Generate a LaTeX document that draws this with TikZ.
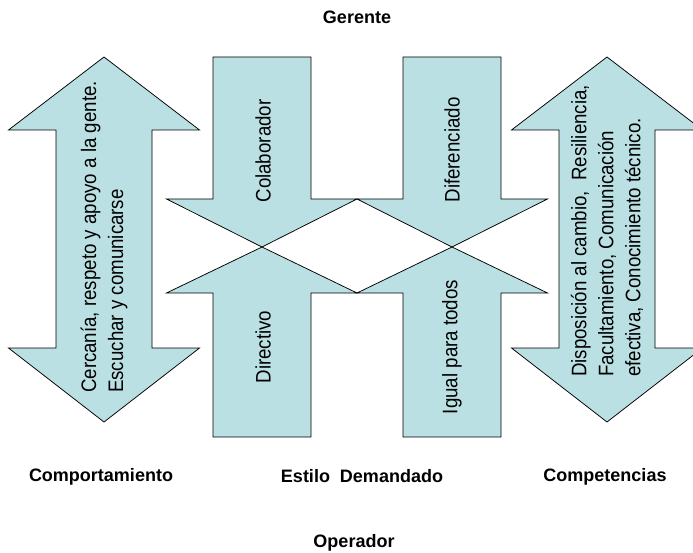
\documentclass[tikz,border=0pt]{standalone}
\usepackage{fontspec}
\setmainfont{Liberation Sans}
\newfontfamily\narrowfont{Liberation Sans}[FakeStretch=0.89]
\definecolor{arrowfill}{RGB}{187,224,227}
\tikzset{
    arrowshape/.style={draw=black, fill=arrowfill, line width=0.75pt, line join=miter},
    intext/.style={rotate=90, inner sep=0pt, align=left,
        font=\narrowfont\fontsize{21}{27}\selectfont},
    heading/.style={anchor=base, inner sep=0pt,
        font=\bfseries\fontsize{18}{22}\selectfont},
}

\begin{document}
\begin{tikzpicture}[x=1pt, y=-1pt]
    \useasboundingbox (0,0) rectangle (693,553);
    % double arrows at the sides
    \draw[arrowshape] (104,57) -- (199.5,130) -- (152,130) -- (152,348)
        -- (199.5,348) -- (104,422) -- (8.5,348) -- (56,348) -- (56,130)
        -- (8.5,130) -- cycle;
    \draw[arrowshape] (607,57) -- (702.5,130) -- (655,130) -- (655,348)
        -- (702.5,348) -- (607,422) -- (511.5,348) -- (559,348) -- (559,130)
        -- (511.5,130) -- cycle;
    % down arrows
    \draw[arrowshape] (213,57) -- (311,57) -- (311,199) -- (357,199)
        -- (262,247) -- (166.5,199) -- (213,199) -- cycle;
    \draw[arrowshape] (403,57) -- (501,57) -- (501,199) -- (547.5,199)
        -- (452,247) -- (357,199) -- (403,199) -- cycle;
    % up arrows
    \draw[arrowshape] (213,437) -- (311,437) -- (311,293) -- (357,293)
        -- (262,247) -- (166.5,293) -- (213,293) -- cycle;
    \draw[arrowshape] (403,437) -- (501,437) -- (501,293) -- (547.5,293)
        -- (452,247) -- (357,293) -- (403,293) -- cycle;

    \node[intext](comp)  at (104,237) {Cercanía, respeto y apoyo a la gente.\\Escuchar y comunicarse};
    \node[intext](compe) at (607,231) {Disposición al cambio,~~Resiliencia,\\Facultamiento, Comunicación\\efectiva, Conocimiento técnico.};
    \node[intext](colab) at (263,151) {Colaborador};
    \node[intext](difer) at (452,150) {Diferenciado};
    \node[intext](direc) at (263,347) {Directivo};
    \node[intext](igual) at (452,347) {Igual para todos};

    \node[heading](gerente)  at (357,24)  {Gerente};
    \node[heading](comport)  at (101,481) {Comportamiento};
    \node[heading](estilo)   at (362,482) {Estilo~~Demandado};
    \node[heading](competen) at (605,481) {Competencias};
    \node[heading](operador) at (354,547) {Operador};
\end{tikzpicture}
\end{document}
